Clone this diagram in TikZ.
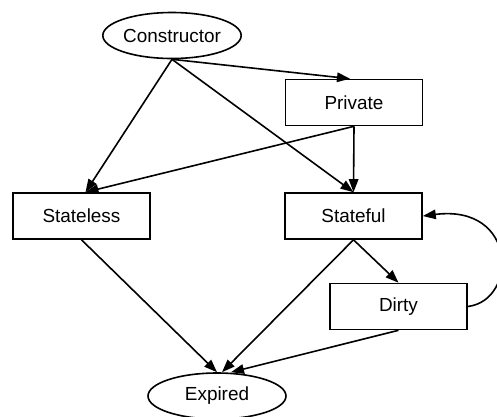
\documentclass[tikz,border=0pt]{standalone}
\usepackage{fontspec}
\setmainfont{Liberation Sans}
\usetikzlibrary{shapes.geometric,arrows.meta}
\tikzset{
  every node/.style={font=\fontsize{19}{22}\selectfont},
  box/.style={draw, line width=1.6bp, rectangle, minimum width=137bp, minimum height=46bp, inner sep=0pt},
  oval/.style={draw, line width=1.6bp, ellipse, minimum width=138bp, minimum height=46bp, inner sep=0pt},
  edge/.style={line width=1.6bp, -{Triangle[length=13bp,width=9.5bp]}}
}
\begin{document}
\begin{tikzpicture}[x=1bp,y=-1bp]
\useasboundingbox (0,0) rectangle (497,416);
\node[oval] (con) at (172,35.5) {Constructor};
\node[box] (pri) at (354,102.5) {Private};
\node[box] (sl) at (81.5,216) {Stateless};
\node[box] (sf) at (353.5,216) {Stateful};
\node[box] (dir) at (398.5,306.5) {Dirty};
\node[oval] (exp) at (217,396) {Expired};
\draw[edge] (con.south) -- ([xshift=-4bp]pri.north);
\draw[edge] (con.south) -- ([xshift=4bp]sl.north);
\draw[edge] (con.south) -- (sf.north);
\draw[edge] (pri.south) -- ([xshift=4bp]sl.north);
\draw[edge] (pri.south) -- (sf.north);
\draw[edge] (sl.south) -- (exp.north);
\draw[edge] (sf.south) -- ([xshift=5bp]exp.north);
\draw[edge] (sf.south) -- (dir.north);
\draw[edge] (dir.south) -- ([xshift=14bp]exp.north);
\draw[edge] (dir.east) .. controls +(50,-6) and +(95,-12) .. (sf.east);
\end{tikzpicture}
\end{document}
